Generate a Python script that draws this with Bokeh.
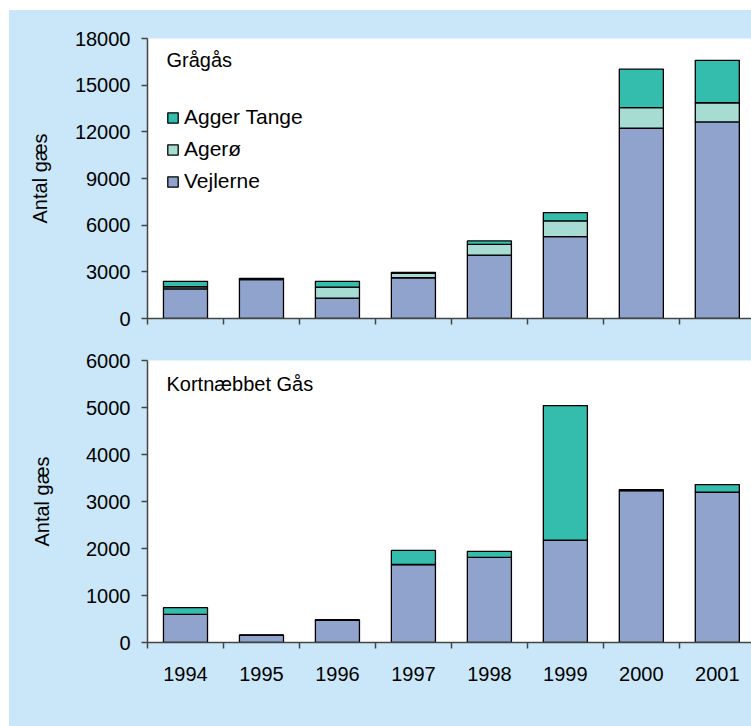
from bokeh.plotting import figure
from bokeh.models import Range1d, FixedTicker, Legend, LegendItem, Label, ColumnDataSource
from bokeh.layouts import column
from bokeh.embed import file_html
from bokeh.resources import INLINE

# ---- data ----
years = ["1994", "1995", "1996", "1997", "1998", "1999", "2000", "2001"]
series_names = ["Vejlerne", "Agerø", "Agger Tange"]
series_colors = ["#8fa3cc", "#a7dcd3", "#34bdad"]

gragas_vejlerne = [1910, 2500, 1310, 2620, 4080, 5260, 12230, 12640]
gragas_agero = [130, 30, 710, 280, 690, 1020, 1330, 1230]
gragas_agger = [350, 50, 370, 70, 220, 530, 2470, 2730]
gragas_yticks = [0, 3000, 6000, 9000, 12000, 15000, 18000]

kort_vejlerne = [600, 155, 470, 1660, 1810, 2180, 3230, 3200]
kort_agero = [0, 0, 0, 0, 0, 0, 0, 0]
kort_agger = [140, 0, 15, 300, 130, 2860, 20, 160]
kort_yticks = [0, 1000, 2000, 3000, 4000, 5000, 6000]

BLUE = "#c9e7f9"
AXC = "#444444"
FONT = "Liberation Sans"


def make_panel(title, vej, agr, agg, yticks, height, border_top, border_bottom,
               frame_h, title_off, show_labels, with_legend, ylab_standoff):
    ymax = yticks[-1]
    pos = list(range(len(years)))
    p = figure(width=742, height=height, output_backend="svg", toolbar_location=None,
               x_range=Range1d(-0.5, 7.45), y_range=Range1d(0, ymax),
               min_border_left=138, min_border_right=0, min_border_top=border_top,
               min_border_bottom=border_bottom)
    p.border_fill_color = BLUE
    p.background_fill_color = "white"
    p.outline_line_color = None
    p.grid.visible = False

    src = ColumnDataSource(dict(x=pos, v=vej, a=agr, t=agg))
    rs = p.vbar_stack(["v", "a", "t"], x="x", width=0.58, source=src,
                      fill_color=series_colors, line_color="black", line_width=1.3)

    if with_legend:
        items = [LegendItem(label=series_names[i], renderers=[rs[i]]) for i in (2, 1, 0)]
        lg = Legend(items=items, location=(19, 125), glyph_width=13, glyph_height=13,
                    label_standoff=5, spacing=8, padding=0, margin=0,
                    border_line_color=None, background_fill_alpha=0,
                    label_text_font=FONT, label_text_font_size="21px",
                    label_height=20, label_text_color="black")
        p.add_layout(lg)

    p.add_layout(Label(x=-0.25, y=ymax * (1 - title_off / frame_h), text=title,
                       text_baseline="top", text_font=FONT, text_font_size="20px",
                       text_color="black"))

    ya = p.yaxis[0]
    ya.ticker = FixedTicker(ticks=yticks)
    ya.axis_label = "Antal gæs"
    ya.axis_label_text_font = FONT
    ya.axis_label_text_font_size = "20px"
    ya.axis_label_text_font_style = "normal"
    ya.axis_label_text_color = "black"
    ya.axis_label_standoff = ylab_standoff
    ya.major_label_text_font = FONT
    ya.major_label_text_font_size = "20px"
    ya.major_label_text_color = "black"
    ya.major_label_standoff = 11
    ya.major_tick_out = 6
    ya.major_tick_in = 0
    ya.minor_tick_out = 0
    ya.axis_line_color = AXC
    ya.axis_line_width = 1.5
    ya.major_tick_line_color = AXC
    ya.major_tick_line_width = 1.5

    xa = p.xaxis[0]
    boundaries = [i - 0.5 for i in pos]
    if show_labels:
        xa.ticker = FixedTicker(ticks=pos, minor_ticks=boundaries)
        xa.major_label_overrides = {i: y for i, y in zip(pos, years)}
        xa.major_label_text_font = FONT
        xa.major_label_text_color = "black"
        xa.major_label_text_font_size = "20px"
        xa.major_label_standoff = 18
    else:
        xa.ticker = FixedTicker(ticks=[], minor_ticks=boundaries)
        xa.major_label_standoff = 0
    xa.major_tick_in = 0
    xa.major_tick_out = 0
    xa.minor_tick_in = 0
    xa.minor_tick_out = 6
    xa.axis_line_color = AXC
    xa.axis_line_width = 1.5
    xa.minor_tick_line_color = AXC
    xa.minor_tick_line_width = 1.5
    return p


p1 = make_panel("Grågås", gragas_vejlerne, gragas_agero, gragas_agger, gragas_yticks,
                height=320, border_top=28, border_bottom=12, frame_h=280, title_off=10,
                show_labels=False, with_legend=True, ylab_standoff=21)
p2 = make_panel("Kortnæbbet Gås", kort_vejlerne, kort_agero, kort_agger, kort_yticks,
                height=396, border_top=30, border_bottom=84, frame_h=282, title_off=12,
                show_labels=True, with_legend=False, ylab_standoff=30)

layout = column(p1, p2, spacing=0, margin=(10, 0, 0, 9),
                styles={"background-color": BLUE})
open("out.html", "w").write(file_html(layout, INLINE))
